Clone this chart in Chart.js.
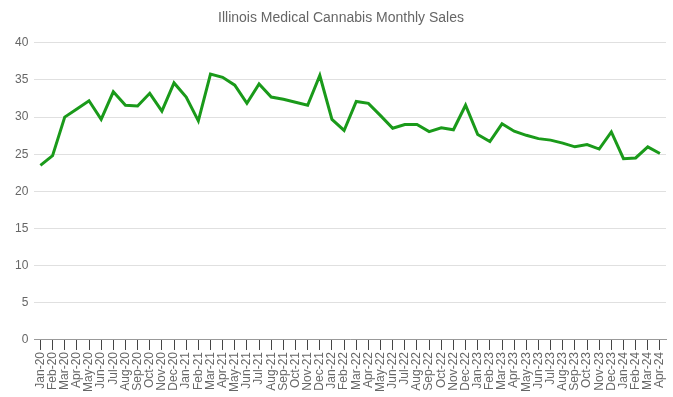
<!DOCTYPE html>
<html>
<head>
<meta charset="utf-8">
<script src="https://cdn.jsdelivr.net/npm/chart.js@4"></script>
<style>
    html, body { margin: 0; padding: 0; background: #fff; }
    #wrap { width: 673px; height: 397px; position: relative; }
</style>
</head>
<body>
<div id="wrap"><canvas id="sales-chart"></canvas></div>
<script>
// Month labels (Jan-20 .. Apr-24)
const MONTHS = [
    'Jan-20', 'Feb-20', 'Mar-20', 'Apr-20', 'May-20', 'Jun-20', 'Jul-20', 'Aug-20', 'Sep-20', 'Oct-20', 'Nov-20', 'Dec-20',
    'Jan-21', 'Feb-21', 'Mar-21', 'Apr-21', 'May-21', 'Jun-21', 'Jul-21', 'Aug-21', 'Sep-21', 'Oct-21', 'Nov-21', 'Dec-21',
    'Jan-22', 'Feb-22', 'Mar-22', 'Apr-22', 'May-22', 'Jun-22', 'Jul-22', 'Aug-22', 'Sep-22', 'Oct-22', 'Nov-22', 'Dec-22',
    'Jan-23', 'Feb-23', 'Mar-23', 'Apr-23', 'May-23', 'Jun-23', 'Jul-23', 'Aug-23', 'Sep-23', 'Oct-23', 'Nov-23', 'Dec-23',
    'Jan-24', 'Feb-24', 'Mar-24', 'Apr-24'
];

// Monthly sales values
const SALES = [
    23.5, 24.8, 30.0, 31.1, 32.2, 29.7, 33.4, 31.6, 31.5, 33.2, 30.8, 34.6,
    32.7, 29.5, 35.8, 35.35, 34.3, 31.85, 34.45, 32.7, 32.4, 32.0, 31.6, 35.6,
    29.7, 28.2, 32.1, 31.85, 30.2, 28.5, 29.0, 29.0, 28.05, 28.55, 28.3, 31.6,
    27.65, 26.7, 29.1, 28.1, 27.55, 27.1, 26.9, 26.5, 26.0, 26.3, 25.7, 28.0,
    24.4, 24.5, 26.0, 25.1
];

const Y_TICKS = [0, 5, 10, 15, 20, 25, 30, 35, 40];

const TITLE = 'Illinois Medical Cannabis Monthly Sales';
const LINE_COLOR = '#1a9a1a';
const TEXT_COLOR = '#666';

Chart.defaults.font.family = '"Liberation Sans", Arial, sans-serif';
Chart.defaults.color = TEXT_COLOR;

const ctx = document.getElementById('sales-chart').getContext('2d');
new Chart(ctx, {
    type: 'line',
    data: {
        labels: MONTHS,
        datasets: [{
            label: 'Sales',
            data: SALES,
            borderColor: LINE_COLOR,
            backgroundColor: LINE_COLOR,
            borderWidth: 3,
            pointRadius: 0,
            tension: 0,
            fill: false
        }]
    },
    options: {
        responsive: true,
        maintainAspectRatio: false,
        animation: false,
        layout: { padding: { left: 9, right: 0, top: 0, bottom: 3 } },
        plugins: {
            legend: { display: false },
            tooltip: { enabled: false },
            title: {
                display: true,
                text: TITLE,
                color: TEXT_COLOR,
                font: { size: 14, weight: 'normal' },
                padding: { top: 10, bottom: 16 }
            }
        },
        scales: {
            x: {
                offset: true,
                afterFit(scale) {
                    // keep the right edge of the plot close to the canvas edge
                    scale.paddingRight = 7;
                },
                grid: {
                    drawOnChartArea: false,
                    drawTicks: true,
                    tickLength: 10,
                    color: '#444'
                },
                border: { display: true, color: '#999', width: 1 },
                ticks: {
                    autoSkip: false,
                    minRotation: 90,
                    maxRotation: 90,
                    padding: 2,
                    font: { size: 12 },
                    color: TEXT_COLOR
                }
            },
            y: {
                min: 0,
                max: 40,
                afterBuildTicks(axis) {
                    axis.ticks = Y_TICKS.map(v => ({ value: v }));
                },
                grid: {
                    drawTicks: false,
                    color: '#e0e0e0'
                },
                border: { display: false },
                ticks: {
                    padding: 6,
                    font: { size: 12 },
                    color: TEXT_COLOR
                }
            }
        }
    }
});
</script>
</body>
</html>
